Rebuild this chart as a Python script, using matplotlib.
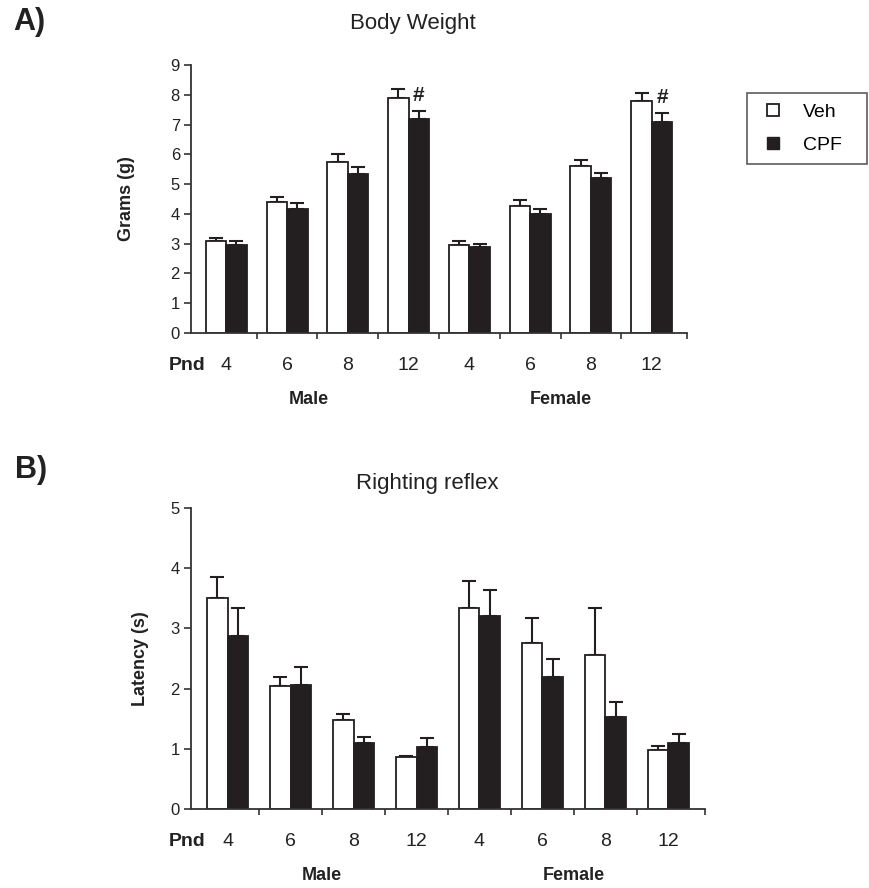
import matplotlib
matplotlib.use("Agg")
import matplotlib.pyplot as plt
import numpy as np
from matplotlib.lines import Line2D

plt.rcParams['font.family'] = ['Liberation Sans', 'DejaVu Sans']

# ---------------- data ----------------
pnd_labels = ["4", "6", "8", "12", "4", "6", "8", "12"]
sex_groups = ["Male", "Female"]
series_names = ["Veh", "CPF"]

bw_veh = [3.1, 4.4, 5.75, 7.9, 2.95, 4.25, 5.6, 7.78]
bw_veh_err = [0.08, 0.17, 0.27, 0.28, 0.15, 0.23, 0.22, 0.27]
bw_cpf = [2.95, 4.15, 5.35, 7.2, 2.9, 4.0, 5.2, 7.1]
bw_cpf_err = [0.15, 0.2, 0.23, 0.27, 0.1, 0.15, 0.18, 0.28]
bw_sig = [3, 7]  # groups marked with '#'

rr_veh = [3.5, 2.05, 1.48, 0.86, 3.34, 2.75, 2.55, 0.98]
rr_veh_err = [0.36, 0.15, 0.1, 0.02, 0.45, 0.43, 0.79, 0.07]
rr_cpf = [2.88, 2.06, 1.1, 1.03, 3.2, 2.2, 1.53, 1.1]
rr_cpf_err = [0.46, 0.3, 0.1, 0.15, 0.43, 0.3, 0.24, 0.14]

W, H = 870, 888
fig = plt.figure(figsize=(W / 100, H / 100), dpi=100)

DARK = "#231f20"


def fx(px):
    return px / W


def fy(py):
    return 1 - py / H


def panel(ax, veh, veh_err, cpf, cpf_err, ymax, bw, ylabel, ylab_x, male_x, female_x):
    x = np.arange(len(veh))
    ax.bar(x - bw / 2, veh, bw, color="white", edgecolor=DARK, linewidth=1.3, zorder=2)
    ax.bar(x + bw / 2, cpf, bw, color=DARK, edgecolor=DARK, linewidth=1.3, zorder=2)
    ax.errorbar(x - bw / 2, veh, yerr=[np.zeros(len(veh)), veh_err], fmt="none",
                ecolor=DARK, elinewidth=1.5, capsize=5, capthick=1.5, zorder=1)
    ax.errorbar(x + bw / 2, cpf, yerr=[np.zeros(len(cpf)), cpf_err], fmt="none",
                ecolor=DARK, elinewidth=1.5, capsize=5, capthick=1.5, zorder=1)
    ax.set_xlim(-0.58, 7.58)
    ax.set_ylim(0, ymax)
    ax.set_yticks(range(0, ymax + 1))
    for s in ["top", "right"]:
        ax.spines[s].set_visible(False)
    for s in ["left", "bottom"]:
        ax.spines[s].set_linewidth(1.3)
        ax.spines[s].set_color("#333333")
    ax.tick_params(axis="y", labelsize=12, length=5, width=1.2, colors="#333333",
                   labelcolor="#222222", pad=3)
    ax.set_xticks(x)
    ax.set_xticklabels(pnd_labels, fontsize=14, color="#222222")
    ax.tick_params(axis="x", length=0, pad=17)
    ax.set_xticks(list(np.arange(0.5, 7.0, 1.0)) + [7.58], minor=True)
    ax.tick_params(axis="x", which="minor", length=4, width=1.2, direction="out",
                   colors="#333333")
    ax.set_ylabel(ylabel, fontsize=13, fontweight="bold", color="#222222")
    ax.yaxis.set_label_coords(ylab_x, 0.5)
    ax.annotate("Pnd", xy=(-0.64, 0), xycoords=("data", "axes fraction"),
                xytext=(0, -17), textcoords="offset points", ha="center", va="top",
                fontsize=14, fontweight="bold", color="#222222")
    ax.annotate(sex_groups[0], xy=(male_x, 0), xycoords=("data", "axes fraction"),
                xytext=(0, -42), textcoords="offset points", ha="center", va="top",
                fontsize=13, fontweight="bold", color="#222222")
    ax.annotate(sex_groups[1], xy=(female_x, 0), xycoords=("data", "axes fraction"),
                xytext=(0, -42), textcoords="offset points", ha="center", va="top",
                fontsize=13, fontweight="bold", color="#222222")
    return x


# Panel A
axA = fig.add_axes([fx(191), fy(333), fx(687) - fx(191), fy(65) - fy(333)])
xA = panel(axA, bw_veh, bw_veh_err, bw_cpf, bw_cpf_err, 9, 0.337, "Grams (g)", -0.113,
           1.35, 5.5)
for g in bw_sig:
    axA.text(xA[g] + 0.337 / 2, bw_cpf[g] + bw_cpf_err[g] + 0.2, "#", ha="center",
             va="bottom", fontsize=15, fontweight="bold", color="#222222")

# Panel B
axB = fig.add_axes([fx(191), fy(809), fx(705) - fx(191), fy(508) - fy(809)])
panel(axB, rr_veh, rr_veh_err, rr_cpf, rr_cpf_err, 5, 0.326, "Latency (s)", -0.082,
      1.5, 5.5)

# Titles and panel letters
fig.text(fx(413), fy(24), "Body Weight", ha="center", va="center", fontsize=16,
         color="#222222")
fig.text(fx(427), fy(483), "Righting reflex", ha="center", va="center", fontsize=16,
         color="#222222")
fig.text(fx(13), fy(22), "A)", ha="left", va="center", fontsize=22, fontweight="bold",
         color="#222222")
fig.text(fx(15), fy(470), "B)", ha="left", va="center", fontsize=22, fontweight="bold",
         color="#222222")

# Legend
handles = [
    Line2D([], [], marker="s", linestyle="none", markersize=9, markerfacecolor="white",
           markeredgecolor=DARK, markeredgewidth=1.3),
    Line2D([], [], marker="s", linestyle="none", markersize=9, markerfacecolor=DARK,
           markeredgecolor=DARK),
]
leg = fig.legend(handles, series_names, loc="upper left",
                 bbox_to_anchor=(fx(747), fy(163), fx(867) - fx(747), fy(93) - fy(163)),
                 mode="expand", frameon=True, fancybox=False,
                 edgecolor="#333333", fontsize=14, handlelength=1.6, handletextpad=0.75,
                 borderpad=0.55, labelspacing=0.75, borderaxespad=0)
leg.get_frame().set_linewidth(1.2)

fig.savefig("out.png", dpi=100)
